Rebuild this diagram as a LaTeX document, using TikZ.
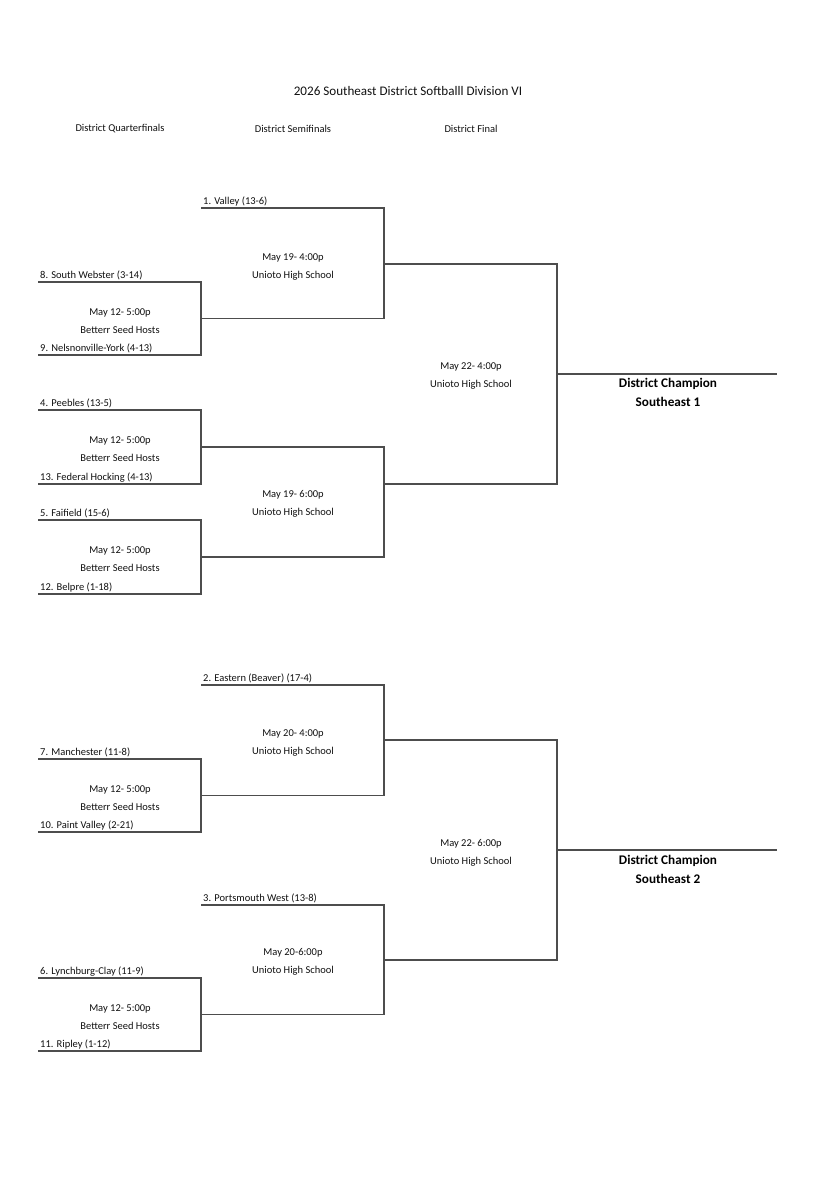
\documentclass[tikz,border=0pt]{standalone}
\usepackage{fontspec}
\setmainfont{Carlito}
\usepackage{xcolor}
\usepackage{tikz}
\usetikzlibrary{positioning, calc}

\definecolor{bracketgray}{HTML}{4D4D4D}
\definecolor{inkgray}{HTML}{111111}

\begin{document}
\begin{tikzpicture}[
    x=1pt, y=-1pt,
    bline/.style={draw=bracketgray, line width=1.6pt},
    team/.style={anchor=base west, inner sep=0pt, xshift=2pt, yshift=3.5pt, text=inkgray, font=\fontsize{10.5}{12}\selectfont},
    info/.style={inner sep=0pt, text=inkgray, font=\fontsize{10.5}{12}\selectfont},
    head/.style={inner sep=0pt, text=inkgray, font=\fontsize{10.5}{12}\selectfont},
    champ/.style={inner sep=0pt, text=black, font=\fontsize{13.2}{15}\selectfont\bfseries}
]
    \useasboundingbox[fill=white] (0,0) rectangle (820,1200);

    \node[head, font=\fontsize{13.1}{15}\selectfont] (title) at (408,91) {2026 Southeast District Softballl Division VI};
    \node[head] (hqf) at (120,129) {District Quarterfinals};
    \node[head] (hsf) at (293,129) {District Semifinals};
    \node[head] (hfn) at (471,129) {District Final};

    \foreach \g/\ya/\yb/\ta/\tb in {
        qa/282/355/{8. South Webster (3-14)}/{9. Nelsnonville-York (4-13)},
        qb/410/484/{4. Peebles (13-5)}/{13. Federal Hocking (4-13)},
        qc/520/594/{5. Faifield (15-6)}/{12. Belpre (1-18)},
        qd/759/832/{7. Manchester (11-8)}/{10. Paint Valley (2-21)},
        qe/978/1051/{6. Lynchburg-Clay (11-9)}/{11. Ripley (1-12)}} {
        \coordinate (\g-top) at (38,\ya);
        \coordinate (\g-bot) at (38,\yb);
        \coordinate (\g-win) at (201,{(\ya+\yb)/2});
        \node[team] (\g-ta) at (\g-top) {\ta};
        \node[team] (\g-tb) at (\g-bot) {\tb};
        \node[info] (\g-date) at (120,{(\ya+\yb)/2-6}) {May 12- 5:00p};
        \node[info] (\g-site) at (120,{(\ya+\yb)/2+11}) {Betterr Seed Hosts};
        \draw[bline] (\g-top) -| (\g-win) |- (\g-bot);
    }

    \coordinate (s1-top) at (201,208);
    \coordinate (s3-top) at (201,685);
    \coordinate (s4-top) at (201,905);
    \node[team] (s1-t) at (s1-top) {1. Valley (13-6)};
    \node[team] (s3-t) at (s3-top) {2. Eastern (Beaver) (17-4)};
    \node[team] (s4-t) at (s4-top) {3. Portsmouth West (13-8)};

    \coordinate (s1-win) at (384,264);
    \coordinate (s2-win) at (384,484);
    \coordinate (s3-win) at (384,740);
    \coordinate (s4-win) at (384,960);

    \draw[bline] (s1-top) -| (s1-win) |- (qa-win);
    \draw[bline] (qb-win) -| (s2-win) |- (qc-win);
    \draw[bline] (s3-top) -| (s3-win) |- (qd-win);
    \draw[bline] (s4-top) -| (s4-win) |- (qe-win);

    \foreach \s/\ya/\txt in {s1/257/{May 19- 4:00p}, s2/494/{May 19- 6:00p},
        s3/733/{May 20- 4:00p}, s4/952/{May 20-6:00p}} {
        \node[info] (\s-date) at (293,\ya+1) {\txt};
        \node[info] (\s-site) at (293,\ya+19) {Unioto High School};
    }

    \coordinate (f1-win) at (557,374);
    \coordinate (f2-win) at (557,850);
    \coordinate (c1-end) at (777,374);
    \coordinate (c2-end) at (777,850);
    \draw[bline] (s1-win) -| (f1-win) |- (s2-win);
    \draw[bline] (s3-win) -| (f2-win) |- (s4-win);
    \draw[bline] (f1-win) -- (c1-end);
    \draw[bline] (f2-win) -- (c2-end);

    \node[info] (f1-date) at (471,367) {May 22- 4:00p};
    \node[info] (f1-site) at (471,385) {Unioto High School};
    \node[info] (f2-date) at (471,844) {May 22- 6:00p};
    \node[info] (f2-site) at (471,862) {Unioto High School};

    \node[champ] (c1-a) at (668,384) {District Champion};
    \node[champ] (c1-b) at (668,402) {Southeast 1};
    \node[champ] (c2-a) at (668,861) {District Champion};
    \node[champ] (c2-b) at (668,879) {Southeast 2};
\end{tikzpicture}
\end{document}
